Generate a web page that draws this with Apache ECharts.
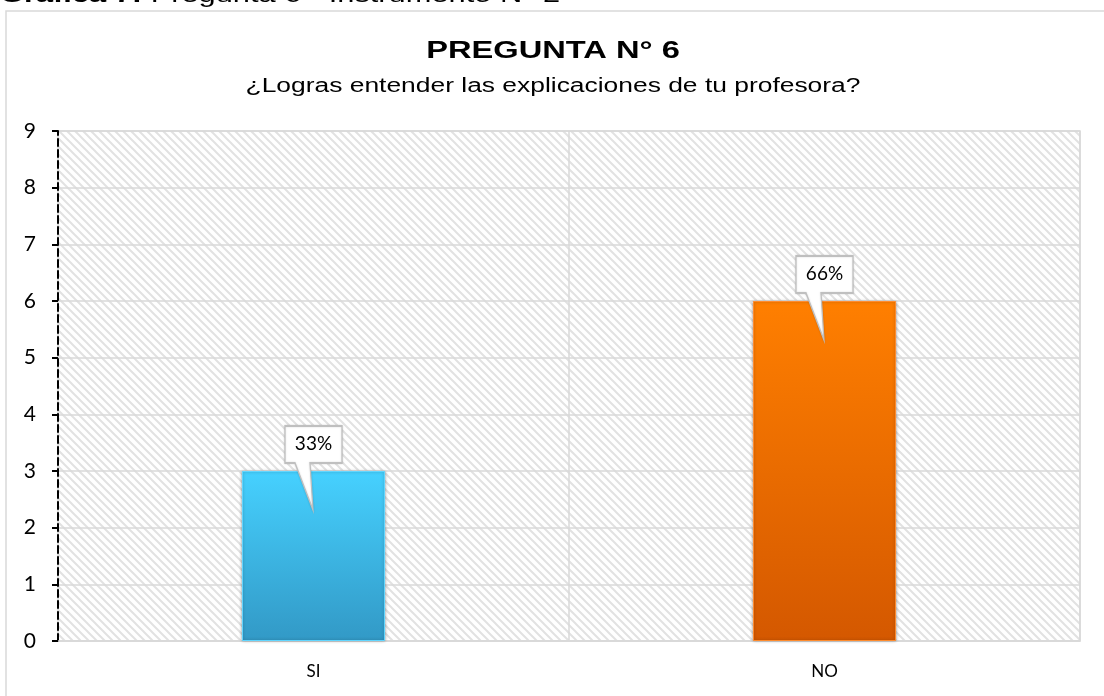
<!DOCTYPE html>
<html>
<head>
<meta charset="utf-8">
<script src="https://cdn.jsdelivr.net/npm/echarts@6/dist/echarts.min.js"></script>
<style>
    html, body {margin: 0; padding: 0; background: #fff;}
    #chart {width: 1104px; height: 696px;}
</style>
</head>
<body>
<div id="chart"></div>
<script>
// datos del grafico
var categorias = ['SI', 'NO'];
var valores = [3, 6];
var porcentajes = ['33%', '66%'];
var ticksY = [0, 1, 2, 3, 4, 5, 6, 7, 8, 9];

var colores = [
    {arriba: '#46d1ff', abajo: '#3299c6', borde: '#62d6ff'},
    {arriba: '#ff7f00', abajo: '#d45800', borde: '#ff8c2e'}
];

// fondo rayado del area de trazado
var trama = document.createElement('canvas');
trama.width = 8;
trama.height = 8;
var ctx = trama.getContext('2d');
ctx.fillStyle = '#ffffff';
ctx.fillRect(0, 0, 8, 8);
ctx.strokeStyle = '#e2e2e2';
ctx.lineWidth = 2;
ctx.beginPath();
ctx.moveTo(-2, -2);
ctx.lineTo(10, 10);
ctx.moveTo(-2, 6);
ctx.lineTo(2, 10);
ctx.moveTo(6, -2);
ctx.lineTo(10, 2);
ctx.stroke();

var myChart = echarts.init(document.getElementById('chart'));

// globo de texto (caja con punta hacia la barra)
var globo = 'path://M0 0 L57 0 L57 37 L25 37 L28 84 L10 37 L0 37 Z';

var datosBarras = valores.map(function (v, i) {
    return {
        value: v,
        itemStyle: {
            color: {
                type: 'linear', x: 0, y: 0, x2: 0, y2: 1,
                colorStops: [
                    {offset: 0, color: colores[i].arriba},
                    {offset: 1, color: colores[i].abajo}
                ]
            },
            borderColor: colores[i].borde,
            borderWidth: 1
        }
    };
});

var puntos = valores.map(function (v, i) {
    return {
        coord: [categorias[i], v],
        value: porcentajes[i]
    };
});

var option = {
    animation: false,
    graphic: [
        {
            type: 'rect',
            shape: {x: 6, y: 11, width: 1120, height: 700},
            style: {fill: 'none', stroke: '#d9d9d9', lineWidth: 1.5},
            z: -10
        },
        {
            // leyenda de la figura (cortada arriba)
            type: 'text',
            x: 0,
            y: 7,
            scaleX: 1.4,
            style: {
                text: '{b|Gráfica 7:} Pregunta 6 - Instrumento N° 2',
                font: '22px "Liberation Sans"',
                fill: '#000',
                textVerticalAlign: 'bottom',
                rich: {
                    b: {fontWeight: 'bold', fontSize: 22, fontFamily: 'Liberation Sans'}
                }
            }
        },
        {
            type: 'text',
            x: 553,
            y: 51,
            scaleX: 1.36,
            style: {
                text: 'PREGUNTA N° 6',
                font: 'bold 24px "Liberation Sans"',
                fill: '#000',
                textAlign: 'center',
                textVerticalAlign: 'middle'
            }
        },
        {
            type: 'text',
            x: 553,
            y: 86,
            scaleX: 1.32,
            style: {
                text: '¿Logras entender las explicaciones de tu profesora?',
                font: '20px "Liberation Sans"',
                fill: '#000',
                textAlign: 'center',
                textVerticalAlign: 'middle'
            }
        }
    ],
    grid: {
        left: 58,
        right: 24,
        top: 131,
        bottom: 55,
        show: true,
        backgroundColor: {image: trama, repeat: 'repeat'},
        borderColor: '#d9d9d9',
        borderWidth: 1.5
    },
    xAxis: {
        type: 'category',
        data: categorias,
        axisLine: {show: true, lineStyle: {color: '#d9d9d9', width: 1.5}},
        axisTick: {show: false},
        splitLine: {show: true, interval: 0, lineStyle: {color: '#d9d9d9', width: 1.5}},
        axisLabel: {
            color: '#000',
            fontFamily: 'Lato',
            fontSize: 17,
            margin: 22
        }
    },
    yAxis: {
        type: 'value',
        min: ticksY[0],
        max: ticksY[ticksY.length - 1],
        interval: 1,
        axisLine: {show: true, lineStyle: {color: '#000', width: 2, type: [7, 4]}},
        axisTick: {show: true, inside: false, length: 6, lineStyle: {color: '#000', width: 2}},
        splitLine: {show: true, lineStyle: {color: '#d9d9d9', width: 1.5}},
        axisLabel: {
            color: '#000',
            fontFamily: 'Lato',
            fontSize: 21,
            margin: 22
        }
    },
    series: [
        {
            name: 'Pregunta 6',
            type: 'bar',
            barWidth: '28%',
            data: datosBarras,
            itemStyle: {
                shadowColor: 'rgba(0,0,0,0.3)',
                shadowBlur: 3
            },
            markPoint: {
                symbol: globo,
                symbolSize: [57, 84],
                symbolOffset: [0, -3],
                symbolKeepAspect: false,
                itemStyle: {
                    color: '#fff',
                    borderColor: '#bfbfbf',
                    borderWidth: 1.5,
                    shadowColor: 'rgba(0,0,0,0.15)',
                    shadowBlur: 2
                },
                label: {
                    show: true,
                    position: 'inside',
                    offset: [0, -24],
                    color: '#000',
                    fontFamily: 'Lato',
                    fontSize: 19,
                    formatter: '{c}'
                },
                data: puntos
            }
        }
    ]
};

myChart.setOption(option);
</script>
</body>
</html>
